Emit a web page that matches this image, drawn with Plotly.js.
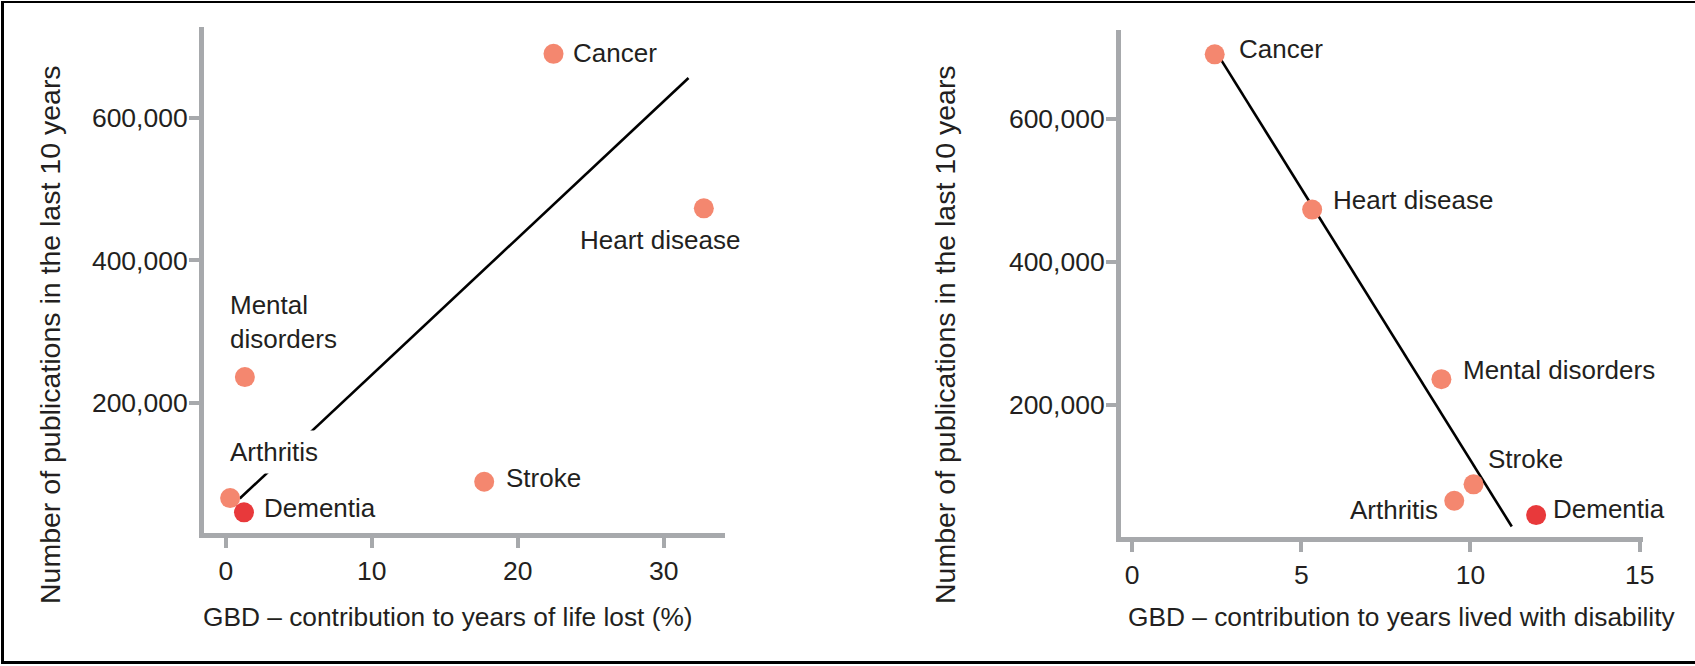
<!DOCTYPE html>
<html>
<head>
<meta charset="utf-8">
<script src="https://cdn.plot.ly/plotly-3.0.1.min.js"></script>
<style>
  html, body { margin: 0; padding: 0; background: #fff; overflow: hidden; }
  #chart { width: 1695px; height: 666px; position: absolute; left: 0; top: 0; }
  #frame { position: absolute; left: 1px; top: 1px; width: 1720px; height: 663px;
           box-sizing: border-box; border-top: 2px solid #000; border-left: 3px solid #000;
           border-bottom: 3px solid #000; pointer-events: none; }
</style>
</head>
<body>
<div id="chart"></div>
<div id="frame"></div>
<script>
// ---- data ----
const categories   = ['Cancer', 'Heart disease', 'Mental disorders', 'Stroke', 'Arthritis', 'Dementia'];
const publications = [690000, 473000, 236000, 89000, 66000, 46000];
const yllPercent   = [22.45, 32.75, 1.3, 17.7, 0.29, 1.24];   // years of life lost (%)
const yldValue     = [2.44, 5.32, 9.14, 10.09, 9.52, 11.94];   // years lived with disability
const trendYllX = [0.95, 31.7];
const trendYllY = [65400, 656000];
const trendYldX = [2.62, 11.22];
const trendYldY = [683000, 30000];
const highlighted = 'Dementia';

// ---- styling ----
const FONT = "'Liberation Sans', Arial, Helvetica, sans-serif";
const TXT = '#231f20';
const AXC = '#a7a9ac';
const SALMON = '#f4876f';
const RED = '#e8393b';
const colors = categories.map(c => c === highlighted ? RED : SALMON);

const markerTrace = (x, y, xa, ya) => ({
  type: 'scatter', mode: 'markers', x: x, y: y, xaxis: xa, yaxis: ya,
  marker: { size: 20, color: colors, line: { width: 0 } },
  hoverinfo: 'skip', showlegend: false, cliponaxis: false
});
const lineTrace = (x, y, xa, ya) => ({
  type: 'scatter', mode: 'lines', x: x, y: y, xaxis: xa, yaxis: ya,
  line: { color: '#000', width: 2.6 }, hoverinfo: 'skip', showlegend: false
});

const data = [
  lineTrace(trendYllX, trendYllY, 'x', 'y'),
  markerTrace(yllPercent, publications, 'x', 'y'),
  lineTrace(trendYldX, trendYldY, 'x2', 'y2'),
  markerTrace(yldValue, publications, 'x2', 'y2')
];

// label placement (pixel offsets from each marker)
const leftPlace = {
  'Cancer':           { xanchor: 'left',  xshift: 17,  yshift: 1 },
  'Heart disease':    { xanchor: 'right', xshift: 38,  yshift: -32 },
  'Mental disorders': { xanchor: 'left',  xshift: -17, yshift: 55, text: 'Mental<br>disorders' },
  'Stroke':           { xanchor: 'left',  xshift: 20,  yshift: 4 },
  'Arthritis':        { xanchor: 'left',  xshift: -7,  yshift: 46, bg: true },
  'Dementia':         { xanchor: 'left',  xshift: 18,  yshift: 4 }
};
const rightPlace = {
  'Cancer':           { xanchor: 'left',  xshift: 22,  yshift: 5 },
  'Heart disease':    { xanchor: 'left',  xshift: 19,  yshift: 10 },
  'Mental disorders': { xanchor: 'left',  xshift: 20,  yshift: 9 },
  'Stroke':           { xanchor: 'left',  xshift: 12,  yshift: 25 },
  'Arthritis':        { xanchor: 'right', xshift: -14, yshift: -9 },
  'Dementia':         { xanchor: 'left',  xshift: 15,  yshift: 6 }
};

const LABEL_SIZE = 26;
const annotations = [];
categories.forEach((c, i) => {
  const p = leftPlace[c];
  annotations.push({
    xref: 'x', yref: 'y', x: yllPercent[i], y: publications[i],
    text: p.text || c, showarrow: false, xanchor: p.xanchor, yanchor: 'middle',
    xshift: p.xshift, yshift: p.yshift, align: 'left',
    font: { family: FONT, size: LABEL_SIZE, color: TXT },
    bgcolor: p.bg ? '#ffffff' : 'rgba(0,0,0,0)', borderpad: p.bg ? 6 : 1
  });
  const q = rightPlace[c];
  annotations.push({
    xref: 'x2', yref: 'y2', x: yldValue[i], y: publications[i],
    text: c, showarrow: false, xanchor: q.xanchor, yanchor: 'middle',
    xshift: q.xshift, yshift: q.yshift, align: 'left',
    font: { family: FONT, size: LABEL_SIZE, color: TXT }
  });
});

// axis titles as paper annotations
const titleFont = { family: FONT, size: 26.3, color: TXT };
const yTitleFont = { family: FONT, size: 28.5, color: TXT };
annotations.push(
  { xref: 'paper', yref: 'paper', x: 448 / 1695, y: 1 - 617 / 666, text: 'GBD – contribution to years of life lost (%)',
    showarrow: false, xanchor: 'center', yanchor: 'middle', font: titleFont },
  { xref: 'paper', yref: 'paper', x: 1401 / 1695, y: 1 - 617 / 666, text: 'GBD – contribution to years lived with disability',
    showarrow: false, xanchor: 'center', yanchor: 'middle', font: titleFont },
  { xref: 'paper', yref: 'paper', x: 50 / 1695, y: 1 - 335 / 666, text: 'Number of publications in the last 10 years',
    showarrow: false, xanchor: 'center', yanchor: 'middle', textangle: -90, font: yTitleFont },
  { xref: 'paper', yref: 'paper', x: 945 / 1695, y: 1 - 335 / 666, text: 'Number of publications in the last 10 years',
    showarrow: false, xanchor: 'center', yanchor: 'middle', textangle: -90, font: yTitleFont }
);

const axisBase = {
  showgrid: false, zeroline: false, showline: true, linecolor: AXC, linewidth: 5,
  ticks: 'outside', ticklen: 10, tickwidth: 4, tickcolor: AXC,
  tickfont: { family: FONT, size: 26.5, color: TXT }, fixedrange: true
};

const layout = {
  width: 1695, height: 666,
  margin: { l: 0, r: 0, t: 0, b: 0 },
  paper_bgcolor: '#fff', plot_bgcolor: '#fff',
  showlegend: false,
  xaxis: Object.assign({}, axisBase, {
    domain: [204 / 1695, 725 / 1695], range: [-1.5, 34.2],
    tickvals: [0, 10, 20, 30], anchor: 'y'
  }),
  yaxis: Object.assign({}, axisBase, {
    domain: [1 - 532.7 / 666, 1 - 27 / 666], range: [17400, 727700],
    tickvals: [200000, 400000, 600000], tickformat: ',d', anchor: 'x',
    ticklabelstandoff: -4
  }),
  xaxis2: Object.assign({}, axisBase, {
    domain: [1121 / 1695, 1642.7 / 1695], range: [-0.33, 15.09],
    tickvals: [0, 5, 10, 15], anchor: 'y2'
  }),
  yaxis2: Object.assign({}, axisBase, {
    domain: [1 - 536.7 / 666, 1 - 30 / 666], range: [15800, 724000],
    tickvals: [200000, 400000, 600000], tickformat: ',d', anchor: 'x2',
    ticklabelstandoff: -4
  }),
  annotations: annotations
};

Plotly.newPlot('chart', data, layout, { staticPlot: true, displayModeBar: false });
</script>
</body>
</html>
